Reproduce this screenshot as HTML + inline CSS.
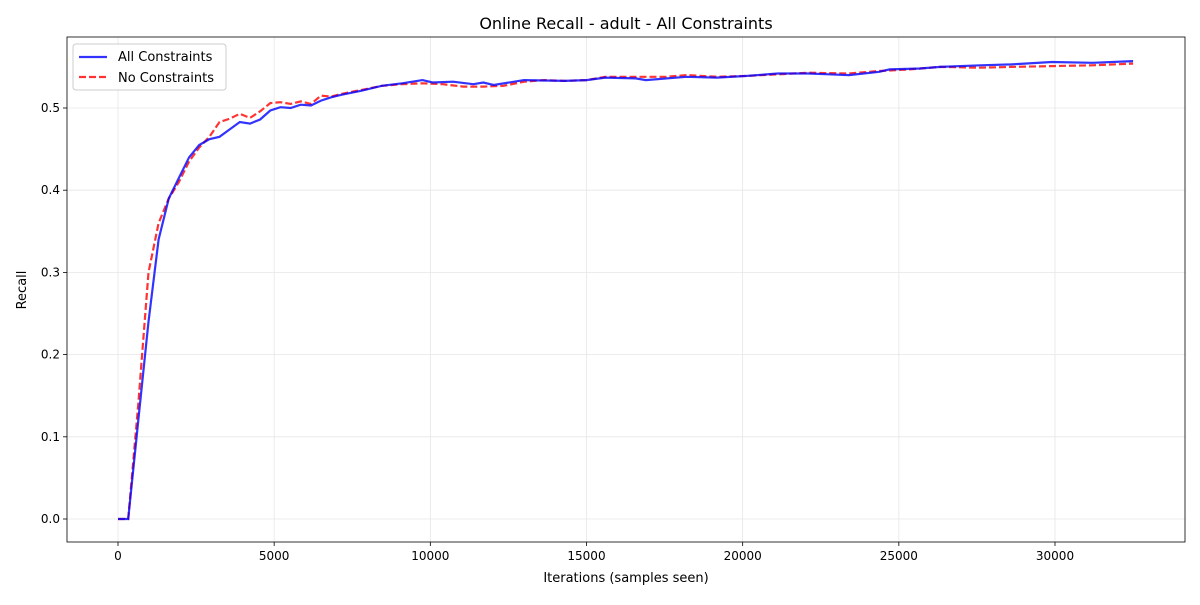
<!DOCTYPE html>
<html><head><meta charset="utf-8"><style>
body{margin:0;background:#fff;font-family:"Liberation Sans","DejaVu Sans",sans-serif;}
text{font-family:"DejaVu Sans","Liberation Sans",sans-serif;}
</style></head><body>
<svg id="chart" width="1200" height="600" xmlns="http://www.w3.org/2000/svg"></svg>
<script>
const xTicks=[0,5000,10000,15000,20000,25000,30000];
const yTicks=[0.0,0.1,0.2,0.3,0.4,0.5];
const allX=[0,325,650,975,1300,1625,1950,2275,2600,2925,3250,3575,3900,4225,4550,4875,5200,5525,5850,6175,6500,6825,7150,7800,8450,9100,9750,10075,10725,11375,11700,12025,13000,14300,15000,15600,16575,16900,18200,19175,20150,21125,22100,22750,23400,24375,24700,25675,26325,27625,28600,29900,31200,32500];
const allY=[0,0,0.12,0.24,0.34,0.39,0.415,0.44,0.455,0.462,0.465,0.474,0.483,0.481,0.486,0.497,0.501,0.5,0.504,0.503,0.509,0.513,0.516,0.521,0.527,0.53,0.534,0.531,0.532,0.529,0.531,0.528,0.534,0.533,0.534,0.537,0.536,0.534,0.538,0.537,0.539,0.542,0.542,0.541,0.54,0.544,0.547,0.548,0.55,0.552,0.553,0.556,0.555,0.557];
const noX=[0,325,650,975,1300,1625,1950,2275,2600,2925,3250,3575,3900,4225,4550,4875,5200,5525,5850,6175,6500,6825,7150,7800,8450,9100,9750,10400,11050,11700,12350,13000,13650,14300,15000,15600,16575,17550,18200,19175,20150,21125,22100,23400,24375,25350,26325,27625,28600,29900,31200,32500];
const noY=[0,0,0.14,0.3,0.36,0.39,0.41,0.435,0.452,0.465,0.483,0.487,0.493,0.488,0.496,0.506,0.507,0.505,0.508,0.505,0.515,0.514,0.517,0.522,0.527,0.529,0.53,0.529,0.526,0.526,0.527,0.532,0.534,0.533,0.534,0.538,0.538,0.538,0.54,0.538,0.539,0.541,0.543,0.542,0.545,0.547,0.55,0.549,0.55,0.551,0.552,0.554];
const L=67,R=1185,T=37,B=542;
const sx=v=>118+v*(1055-118)/30000;
const sy=v=>519-v*(519-108)/0.5;
const svg=document.getElementById('chart');
const NS='http://www.w3.org/2000/svg';
function mk(tag,attrs,txt){const e=document.createElementNS(NS,tag);for(const k in attrs)e.setAttribute(k,attrs[k]);if(txt!==undefined)e.textContent=txt;svg.appendChild(e);return e;}
xTicks.forEach(t=>{const x=sx(t);
 let g=mk('line',{x1:x,x2:x,y1:T,y2:B,stroke:'#e6e6e6','stroke-width':0.8});
 
 let k=mk('line',{x1:x,x2:x,y1:B,y2:B+4,stroke:'#000','stroke-width':0.8});
 
 let l=mk('text',{x:x,y:B+18,'font-size':12,'text-anchor':'middle'},String(t));
 });
yTicks.forEach(t=>{const y=sy(t);
 let g=mk('line',{x1:L,x2:R,y1:y,y2:y,stroke:'#e6e6e6','stroke-width':0.8});
 
 let k=mk('line',{x1:L-4,x2:L,y1:y,y2:y,stroke:'#000','stroke-width':0.8});
 
 let l=mk('text',{x:L-7,y:y+4,'font-size':12,'text-anchor':'end'},t.toFixed(1));
 });
function line(xs,ys,color,dash,name){
 const d=xs.map((x,i)=>(i?'L':'M')+sx(x).toFixed(1)+','+sy(ys[i]).toFixed(1)).join('');
 const p=mk('path',{d:d,fill:'none',stroke:color,'stroke-width':2.2,'stroke-opacity':0.8,'stroke-dasharray':dash||'none'});
 }
line(noX,noY,'#ff0000','7,3','no-constraints-line');
line(allX,allY,'#0000ff',null,'all-constraints-line');
let f=mk('rect',{x:L,y:T,width:R-L,height:B-T,fill:'none',stroke:'#000','stroke-width':0.8});

let t1=mk('text',{x:626,y:29,'font-size':16,'text-anchor':'middle'},'Online Recall - adult - All Constraints');

let t2=mk('text',{x:626,y:582,'font-size':13,'text-anchor':'middle'},'Iterations (samples seen)');

let t3=mk('text',{x:26,y:290,'font-size':13,'text-anchor':'middle',transform:'rotate(-90 26 290)'},'Recall');

let lg=mk('rect',{x:73,y:44,width:153,height:46,rx:3,fill:'#fff',stroke:'#ccc','stroke-width':1});

let l1=mk('line',{x1:79,x2:107,y1:57,y2:57,stroke:'#0000ff','stroke-opacity':0.8,'stroke-width':2.2});

let e1=mk('text',{x:118,y:61,'font-size':13},'All Constraints');

let l2=mk('line',{x1:79,x2:107,y1:77,y2:77,stroke:'#ff0000','stroke-opacity':0.8,'stroke-width':2.2,'stroke-dasharray':'7,3'});

let e2=mk('text',{x:118,y:82,'font-size':13},'No Constraints');

</script>
</body></html>
